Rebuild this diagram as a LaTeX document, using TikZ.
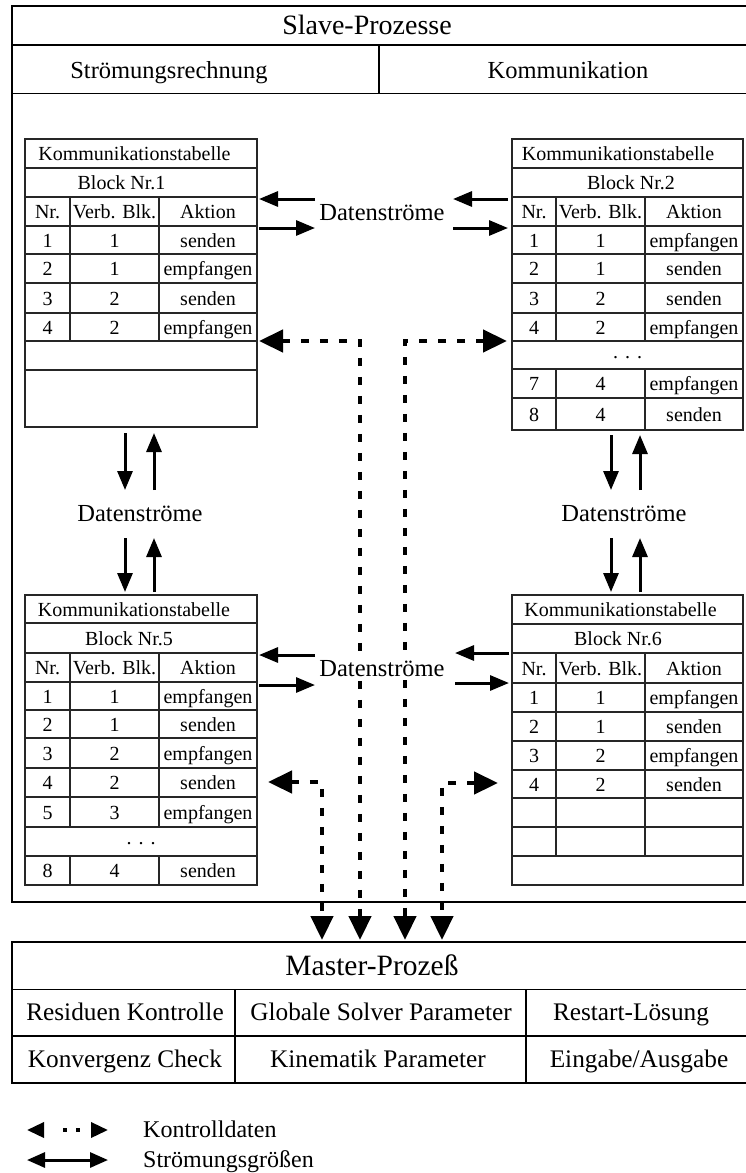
\documentclass[tikz,border=0pt]{standalone}
\usepackage{fontspec}
\setmainfont{Liberation Serif}
\usetikzlibrary{arrows.meta}
\newcommand{\fsz}[1]{\fontsize{#1pt}{#1pt}\selectfont}
\newcommand{\mydots}{\raisebox{4pt}{.\kern7pt.\kern7pt.}}
% one table row of three cells: name prefix, y, x-centres, texts
\newcommand{\cellrow}[8]{%
  \node[tx] (#1a) at (#3,#2) {#6};
  \node[tx] (#1b) at (#4,#2) {#7};
  \node[tx] (#1c) at (#5,#2) {#8};}
\begin{document}
\begin{tikzpicture}[x=1pt,y=-1pt,
  frame/.style={line width=1.8pt},
  grid/.style={line width=1.2pt, draw=black!85},
  tbox/.style={grid, draw, inner sep=0pt, outer sep=0pt, anchor=north west},
  tx/.style={inner sep=0pt, text height=14pt, text depth=0pt, font=\fsz{20}},
  ttl/.style={inner sep=0pt, text height=19pt, text depth=0pt, font=\fsz{28}},
  sub/.style={inner sep=0pt, text height=17pt, text depth=0pt, font=\fsz{24.5}},
  dslabel/.style={sub, fill=white, inner xsep=1pt, inner ysep=3pt},
  mcell/.style={inner sep=0pt, text height=17pt, text depth=0pt, font=\fsz{25.3}},
  lgtx/.style={inner sep=0pt, anchor=west, text height=17pt, text depth=0pt, font=\fsz{24}},
  flow/.style={line width=3pt, -{Triangle[length=19pt,width=15pt]}},
  ctl/.style={line width=4.5pt, dash pattern=on 8pt off 11pt,
    {Triangle[length=24pt,width=22pt]}-{Triangle[length=24pt,width=22pt]}},
  lgctl/.style={line width=3.5pt, dash pattern=on 0pt off 20pt on 3.5pt off 9.5pt on 3.5pt off 60pt,
    {Triangle[length=17pt,width=15pt]}-{Triangle[length=17pt,width=15pt]}},
  lgflow/.style={line width=3pt, {Triangle[length=18pt,width=15pt]}-{Triangle[length=18pt,width=15pt]}},
]
\useasboundingbox (0,0) rectangle (746,1173);
\fill[white] (0,0) rectangle (746,1173);

% ---------------- Slave box ----------------
\draw[frame] (746,6) -- (12,6) -- (12,902) -- (746,902);
\draw[frame] (12,45) -- (746,45);
\draw[frame] (12,93.5) -- (746,93.5);
\draw[line width=1.2pt] (379,45) -- (379,93.5);
\node[ttl] (slave) at (367,25) {Slave-Prozesse};
\node[sub] (stroem) at (169,69.5) {Strömungsrechnung};
\node[sub] (komm) at (568,69.5) {Kommunikation};

% ---------------- Table 1 ----------------
\node[tbox, minimum width=232pt, minimum height=288pt] (t1) at (25,139) {};
\foreach \y in {168,197,226,254,283,313,341,370} \draw[grid] (25,\y) -- (257,\y);
\draw[grid] (70,197) -- (70,341);
\draw[grid] (159,197) -- (159,341);
\node[tx] (t1k) at (134.5,153.5) {Kommunikationstabelle};
\node[tx] (t1n) at (121.5,182.5) {Block Nr.1};
\cellrow{t1h}{211.5}{47.5}{114.5}{208}{Nr.}{Verb. Blk.}{Aktion}
\cellrow{t1r1}{240}{47.5}{114.5}{208}{1}{1}{senden}
\cellrow{t1r2}{268.5}{47.5}{114.5}{208}{2}{1}{empfangen}
\cellrow{t1r3}{298}{47.5}{114.5}{208}{3}{2}{senden}
\cellrow{t1r4}{327}{47.5}{114.5}{208}{4}{2}{empfangen}

% ---------------- Table 2 ----------------
\node[tbox, minimum width=231pt, minimum height=291pt] (t2) at (512,139) {};
\foreach \y in {168,197,226,254,283,313,341,369,398} \draw[grid] (512,\y) -- (743,\y);
\draw[grid] (556,197) -- (556,341);
\draw[grid] (645,197) -- (645,341);
\draw[grid] (556,369) -- (556,430);
\draw[grid] (645,369) -- (645,430);
\node[tx] (t2k) at (618,153.5) {Kommunikationstabelle};
\node[tx] (t2n) at (631,182.5) {Block Nr.2};
\cellrow{t2h}{211.5}{534}{600.5}{694}{Nr.}{Verb. Blk.}{Aktion}
\cellrow{t2r1}{240}{534}{600.5}{694}{1}{1}{empfangen}
\cellrow{t2r2}{268.5}{534}{600.5}{694}{2}{1}{senden}
\cellrow{t2r3}{298}{534}{600.5}{694}{3}{2}{senden}
\cellrow{t2r4}{327}{534}{600.5}{694}{4}{2}{empfangen}
\node[tx] (t2d) at (627.5,355) {\mydots};
\cellrow{t2r7}{383.5}{534}{600.5}{694}{7}{4}{empfangen}
\cellrow{t2r8}{414}{534}{600.5}{694}{8}{4}{senden}

% ---------------- Table 5 ----------------
\node[tbox, minimum width=232pt, minimum height=290pt] (t5) at (25,595) {};
\foreach \y in {623,653,682,710,738,768,797,827,856} \draw[grid] (25,\y) -- (257,\y);
\draw[grid] (70,653) -- (70,827);
\draw[grid] (159,653) -- (159,827);
\draw[grid] (70,856) -- (70,885);
\draw[grid] (159,856) -- (159,885);
\node[tx] (t5k) at (134,609) {Kommunikationstabelle};
\node[tx] (t5n) at (129,638) {Block Nr.5};
\cellrow{t5h}{667.5}{47.5}{114.5}{208}{Nr.}{Verb. Blk.}{Aktion}
\cellrow{t5r1}{696}{47.5}{114.5}{208}{1}{1}{empfangen}
\cellrow{t5r2}{724}{47.5}{114.5}{208}{2}{1}{senden}
\cellrow{t5r3}{753}{47.5}{114.5}{208}{3}{2}{empfangen}
\cellrow{t5r4}{782.5}{47.5}{114.5}{208}{4}{2}{senden}
\cellrow{t5r5}{812}{47.5}{114.5}{208}{5}{3}{empfangen}
\node[tx] (t5d) at (141,841) {\mydots};
\cellrow{t5r8}{870.5}{47.5}{114.5}{208}{8}{4}{senden}

% ---------------- Table 6 ----------------
\node[tbox, minimum width=231pt, minimum height=290pt] (t6) at (512,595) {};
\foreach \y in {624,653,683,712,741,770,798,827,856} \draw[grid] (512,\y) -- (743,\y);
\draw[grid] (556,653) -- (556,856);
\draw[grid] (645,653) -- (645,856);
\node[tx] (t6k) at (620.5,609.5) {Kommunikationstabelle};
\node[tx] (t6n) at (618,638.5) {Block Nr.6};
\cellrow{t6h}{668}{534}{600.5}{694}{Nr.}{Verb. Blk.}{Aktion}
\cellrow{t6r1}{697.5}{534}{600.5}{694}{1}{1}{empfangen}
\cellrow{t6r2}{726.5}{534}{600.5}{694}{2}{1}{senden}
\cellrow{t6r3}{755.5}{534}{600.5}{694}{3}{2}{empfangen}
\cellrow{t6r4}{784}{534}{600.5}{694}{4}{2}{senden}

% ---------------- Master box ----------------
\draw[frame] (746,942) -- (12,942) -- (12,1083) -- (746,1083);
\draw[frame] (12,989.5) -- (746,989.5);
\draw[frame] (12,1036) -- (746,1036);
\draw[frame] (235,989.5) -- (235,1083);
\draw[frame] (526,989.5) -- (526,1083);
\node[inner sep=0pt, text height=20pt, text depth=0pt, font=\fsz{29.5}] (master) at (372,965) {Master-Prozeß};
\node[mcell] (m11) at (125,1012) {Residuen Kontrolle};
\node[mcell] (m12) at (381,1012) {Globale Solver Parameter};
\node[mcell] (m13) at (631,1012) {Restart-Lösung};
\node[mcell] (m21) at (125,1059) {Konvergenz Check};
\node[mcell] (m22) at (378,1059) {Kinematik Parameter};
\node[mcell] (m23) at (639,1059) {Eingabe/Ausgabe};

% ---------------- control connectors ----------------
\coordinate (c1) at (259,341); \coordinate (e1) at (360,940);
\coordinate (c2) at (507,341); \coordinate (e2) at (405,940);
\coordinate (c5) at (268,782); \coordinate (e5) at (322,940);
\coordinate (c6) at (498,783); \coordinate (e6) at (442,940);
\draw[ctl] (c1) -| (e1);
\draw[ctl] (c2) -| (e2);
\draw[ctl] (c5) -| (e5);
\draw[ctl] (c6) -| (e6);

% ---------------- Datenstroeme labels ----------------
\node[dslabel] (ds12) at (382,212) {Datenströme};
\node[dslabel] (ds56) at (382,668) {Datenströme};
\node[dslabel] (ds15) at (140,513) {Datenströme};
\node[dslabel] (ds26) at (624,513) {Datenströme};

% horizontal flow arrows
\coordinate (h1a) at (315,199); \coordinate (h1b) at (259,199);
\coordinate (h2a) at (259,228); \coordinate (h2b) at (315,228);
\coordinate (h3a) at (508,199); \coordinate (h3b) at (453,199);
\coordinate (h4a) at (453,228); \coordinate (h4b) at (508,228);
\coordinate (h5a) at (315,655); \coordinate (h5b) at (259,655);
\coordinate (h6a) at (259,685); \coordinate (h6b) at (315,685);
\coordinate (h7a) at (509,653); \coordinate (h7b) at (455,653);
\coordinate (h8a) at (455,683); \coordinate (h8b) at (509,683);
\foreach \i in {1,...,8} \draw[flow] (h\i a) -- (h\i b);

% vertical flow arrows
\coordinate (v1a) at (125,433); \coordinate (v1b) at (125,490);
\coordinate (v2a) at (154,490); \coordinate (v2b) at (154,433);
\coordinate (v3a) at (125,538); \coordinate (v3b) at (125,592);
\coordinate (v4a) at (154,592); \coordinate (v4b) at (154,538);
\coordinate (v5a) at (611,435); \coordinate (v5b) at (611,490);
\coordinate (v6a) at (640,490); \coordinate (v6b) at (640,435);
\coordinate (v7a) at (611,538); \coordinate (v7b) at (611,592);
\coordinate (v8a) at (640,592); \coordinate (v8b) at (640,538);
\foreach \i in {1,...,8} \draw[flow] (v\i a) -- (v\i b);

% ---------------- legend ----------------
\coordinate (lk1) at (27,1130); \coordinate (lk2) at (108,1130);
\coordinate (ls1) at (27,1160); \coordinate (ls2) at (108,1160);
\draw[lgctl] (lk1) -- (lk2);
\draw[lgflow] (ls1) -- (ls2);
\node[lgtx] (lgk) at (143,1129) {Kontrolldaten};
\node[lgtx] (lgs) at (143,1159) {Strömungsgrößen};
\end{tikzpicture}
\end{document}
